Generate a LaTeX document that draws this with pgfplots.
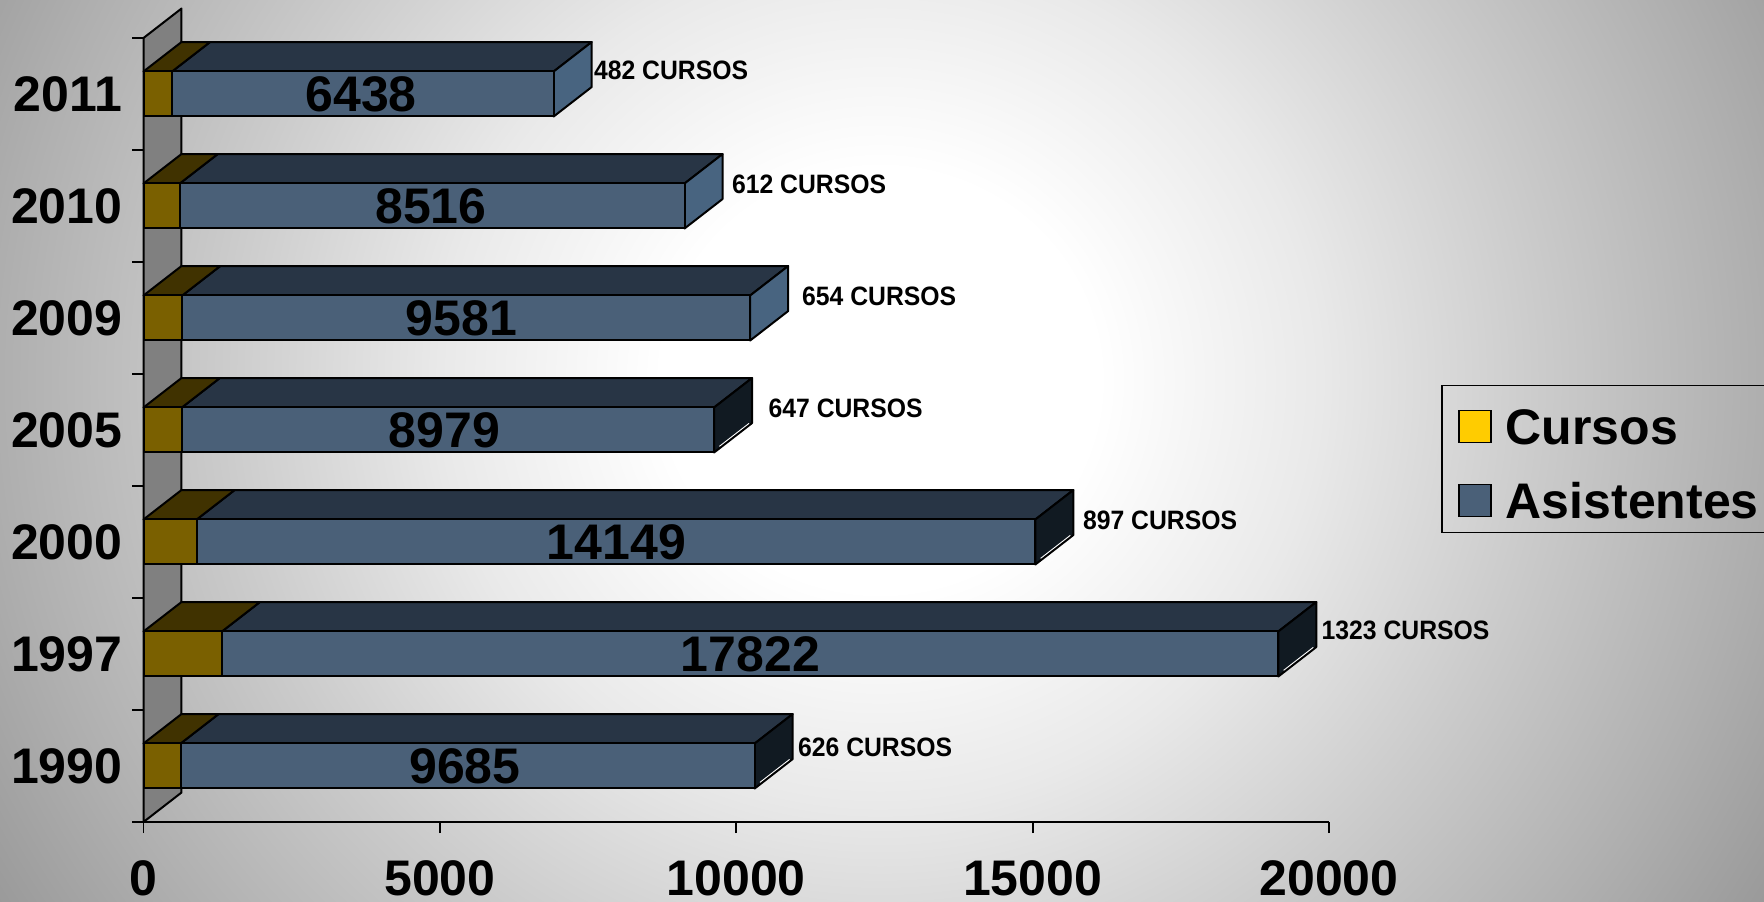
\documentclass[border=0pt]{standalone}
\usepackage{pgfplots}
\usepackage{pgfplotstable}
\usepackage{fontspec}
\setmainfont{Liberation Sans}
\pgfplotsset{compat=1.18}
\definecolor{cursF}{RGB}{122,96,0}
\definecolor{cursT}{RGB}{64,50,0}
\definecolor{asisF}{RGB}{74,96,120}
\definecolor{asisT}{RGB}{40,53,69}
\definecolor{sideL}{RGB}{72,100,128}
\definecolor{sideD}{RGB}{17,26,34}
\definecolor{wallc}{RGB}{128,128,128}
\definecolor{legY}{RGB}{255,204,0}
\pgfdeclareradialshading{bgshade}{\pgfpoint{0bp}{0bp}}{%
color(0bp)=(white);
color(3.1bp)=(white);
color(6.25bp)=(black!8.6);
color(9.4bp)=(black!20.4);
color(12.5bp)=(black!31.4);
color(15.6bp)=(black!43);
color(18.75bp)=(black!53);
color(50bp)=(black!53)}
\pgfplotstableread{
y    c     a
0.5  626   9685
1.5  1323  17822
2.5  897   14149
3.5  647   8979
4.5  654   9581
5.5  612   8516
6.5  482   6438
}\datatable
\newcommand\bigf{\bfseries\fontsize{50}{50}\selectfont}
\newcommand\smallf{\bfseries\fontsize{26.6}{27}\selectfont}
\newcommand\cur[1]{\scalebox{0.93}[1]{#1 CURSOS}}
% y centre, cursos, asistentes, side colour
\newcommand\tops[4]{%
  \pgfmathsetmacro\yb{#1-0.2009}\pgfmathsetmacro\yt{#1+0.2009}%
  \pgfmathsetmacro\ybd{\yb+0.263}\pgfmathsetmacro\ytd{\yt+0.263}%
  \edef\cE{#2}\edef\cD{\the\numexpr#2+641\relax}%
  \edef\tE{\the\numexpr#2+#3\relax}\edef\tD{\the\numexpr#2+#3+641\relax}%
  \edef\temp{%
  \noexpand\addplot[forget plot,fill=asisT,draw=black,line width=2pt,line join=round] coordinates {(\cE,\yt) (\tE,\yt) (\tD,\ytd) (\cD,\ytd)} --cycle;
  \noexpand\addplot[forget plot,fill=cursT,draw=black,line width=2pt,line join=round] coordinates {(0,\yt) (\cE,\yt) (\cD,\ytd) (641,\ytd)} --cycle;
  \noexpand\addplot[forget plot,fill=#4,draw=black,line width=2pt,line join=round] coordinates {(\tE,\yb) (\tE,\yt) (\tD,\ytd) (\tD,\ybd)} --cycle;
  }\temp}
\begin{document}
\begin{tikzpicture}
\useasboundingbox (0,0) rectangle (1764pt,902pt);
\clip (0,0) rectangle (1764pt,902pt);
\shade[shading=bgshade] (880pt,522pt) ellipse [x radius=1760pt, y radius=1700pt];
\begin{axis}[
  at={(143.5pt,80pt)}, anchor=south west,
  scale only axis, width=1185.5pt, height=784pt,
  xmin=0, xmax=20000, ymin=0, ymax=7,
  clip=false,
  axis x line*=bottom, axis y line*=left,
  axis line style={line width=1.8pt,-},
  tick align=outside,
  tick style={line width=1.8pt,black},
  major tick length=11pt,
  scaled ticks=false,
  xtick={0,5000,10000,15000,20000},
  ytick={0,1,2,3,4,5,6,7},
  yticklabels={},
  extra y ticks={0.5,1.5,2.5,3.5,4.5,5.5,6.5},
  extra y tick labels={1990,1997,2000,2005,2009,2010,2011},
  extra y tick style={major tick length=0pt,tick style={draw=none}},
  /pgf/number format/assume math mode=true,
  /pgf/number format/1000 sep={},
  tick label style={font=\bigf},
  xticklabel style={inner sep=0pt,yshift=-27pt},
  yticklabel style={inner sep=0pt,xshift=-21pt},
  legend style={at={(1.0945,0.5578)},anchor=north west,draw=black,line width=1.8pt,fill=none,
    font=\bigf,inner xsep=16pt,inner ysep=12pt,row sep=25pt,
    nodes={inner sep=0pt,text height=47pt,text depth=2pt}},
  legend cell align=left,
]
% back wall
\addplot[forget plot,fill=wallc,draw=black,line width=2pt,line join=round] coordinates {(0,0) (641,0.263) (641,7.263) (0,7)} --cycle;
\tops{0.5}{626}{9685}{sideD}
\tops{1.5}{1323}{17822}{sideD}
\tops{2.5}{897}{14149}{sideD}
\tops{3.5}{647}{8979}{sideD}
\tops{4.5}{654}{9581}{sideL}
\tops{5.5}{612}{8516}{sideL}
\tops{6.5}{482}{6438}{sideL}
% thin light lower edges of the dark end faces
\addplot[forget plot,white,line width=0.9pt] coordinates {(10400,0.354) (10900,0.559)};
\addplot[forget plot,white,line width=0.9pt] coordinates {(19234,1.354) (19734,1.559)};
\addplot[forget plot,white,line width=0.9pt] coordinates {(15135,2.354) (15635,2.559)};
\addplot[forget plot,white,line width=0.9pt] coordinates {(9715,3.354) (10215,3.559)};
% front faces
\addplot[forget plot,xbar,bar shift=0pt,bar width=45pt,fill=asisF,draw=black,line width=2pt] table[y=y,x expr=\thisrow{c}+\thisrow{a}] {\datatable};
\addplot[forget plot,xbar,bar shift=0pt,bar width=45pt,fill=cursF,draw=black,line width=2pt] table[y=y,x=c] {\datatable};
% legend entries
\addlegendimage{legend image code/.code={\draw[fill=legY,draw=black,line width=1.8pt] (0pt,-20.5pt) rectangle (32pt,11.5pt);\draw[draw=none,fill=none] (0pt,-16pt) rectangle (47pt,16pt);}}
\addlegendentry{Cursos}
\addlegendimage{legend image code/.code={\draw[fill=asisF,draw=black,line width=1.8pt] (0pt,-20.5pt) rectangle (32pt,11.5pt);\draw[draw=none,fill=none] (0pt,-16pt) rectangle (47pt,16pt);}}
\addlegendentry{Asistentes\hspace{60pt}}
% values
\node[font=\bigf,inner sep=0pt] at (axis cs:3670,6.5) {6438};
\node[font=\bigf,inner sep=0pt] at (axis cs:4848,5.5) {8516};
\node[font=\bigf,inner sep=0pt] at (axis cs:5361,4.5) {9581};
\node[font=\bigf,inner sep=0pt] at (axis cs:5079,3.5) {8979};
\node[font=\bigf,inner sep=0pt] at (axis cs:7977,2.5) {14149};
\node[font=\bigf,inner sep=0pt] at (axis cs:10238,1.5) {17822};
\node[font=\bigf,inner sep=0pt] at (axis cs:5423,0.5) {9685};
\node[font=\smallf,inner sep=0pt,anchor=west] at (axis cs:7598,6.714) {\cur{482}};
\node[font=\smallf,inner sep=0pt,anchor=west] at (axis cs:9927,5.692) {\cur{612}};
\node[font=\smallf,inner sep=0pt,anchor=west] at (axis cs:11109,4.696) {\cur{654}};
\node[font=\smallf,inner sep=0pt,anchor=west] at (axis cs:10543,3.696) {\cur{647}};
\node[font=\smallf,inner sep=0pt,anchor=west] at (axis cs:15848,2.696) {\cur{897}};
\node[font=\smallf,inner sep=0pt,anchor=west] at (axis cs:19873,1.708) {\cur{1323}};
\node[font=\smallf,inner sep=0pt,anchor=west] at (axis cs:11041,0.67) {\cur{626}};
\end{axis}
\end{tikzpicture}
\end{document}
